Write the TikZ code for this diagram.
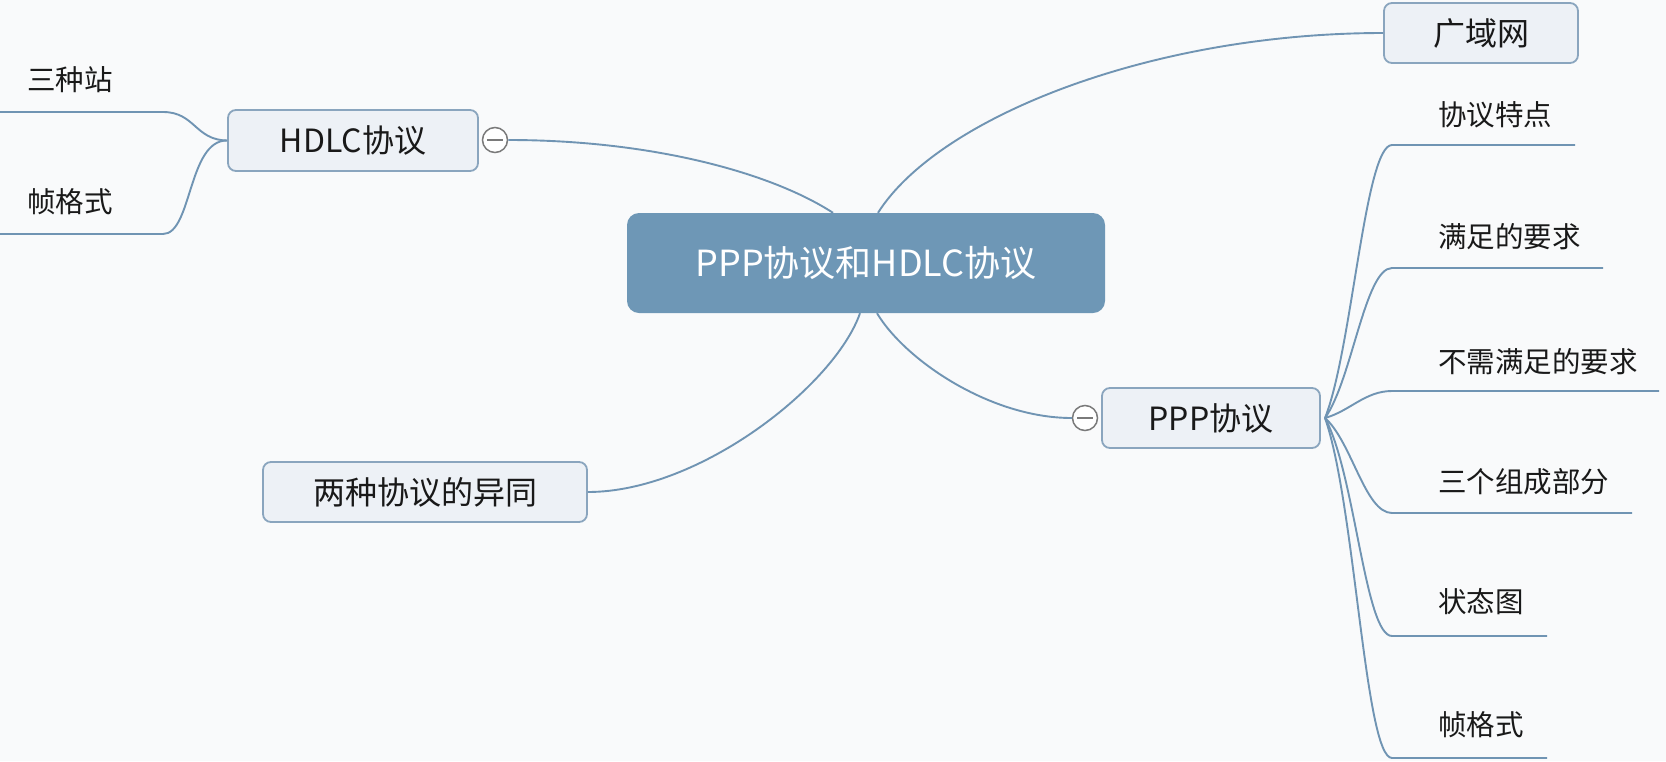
\documentclass[tikz,border=0pt]{standalone}
\usepackage{fontspec}
\setmainfont{Noto Sans CJK SC}
\definecolor{bgc}{HTML}{F9FAFB}
\definecolor{boxfill}{HTML}{EDF1F6}
\definecolor{boxline}{HTML}{8AA5BE}
\definecolor{mainfill}{HTML}{6E97B6}
\definecolor{linkc}{HTML}{7094B3}
\definecolor{knob}{HTML}{7A7A7A}
\begin{document}
\begin{tikzpicture}[x=1pt,y=-1pt,
  topic/.style={draw=boxline, line width=1.8pt, fill=boxfill, rounded corners=8pt,
    inner sep=0pt, font=\fontsize{32}{38}\selectfont, text=black!90},
  central/.style={fill=mainfill, rounded corners=12pt, inner sep=0pt,
    minimum width=478pt, minimum height=100pt, text=white, font=\fontsize{36}{42}\selectfont},
  leaf/.style={anchor=west, inner sep=0pt, font=\fontsize{28.5}{34}\selectfont, text=black!90},
  link/.style={draw=linkc, line width=1.9pt},
  knobc/.style={circle, draw=knob, line width=1.5pt, fill=white, minimum size=25pt, inner sep=0pt,
    path picture={\draw[knob, line width=1.6pt] ([xshift=-8pt]path picture bounding box.center) -- ([xshift=8pt]path picture bounding box.center);}}
]
\useasboundingbox[fill=bgc] (0,0) rectangle (1666,761);

% main topics
\node[central] (center) at (866,263) {PPP协议和HDLC协议};
\node[topic, minimum width=250pt, minimum height=61pt] (hdlc) at (353,140.5) {HDLC协议};
\node[topic, minimum width=218pt, minimum height=60pt] (ppp) at (1211,418) {PPP协议};
\node[topic, minimum width=194pt, minimum height=60pt] (wan) at (1481,33) {广域网};
\node[topic, minimum width=324pt, minimum height=60pt] (diff) at (425,492) {两种协议的异同};

% collapse knobs
\node[knobc] (hk) at (495,140) {};
\node[knobc] (pk) at (1085,418) {};

% links from the central topic
\draw[link] ([xshift=12pt]center.north) .. controls (938,118) and (1150,33) .. (wan.west);
\draw[link] ([xshift=-33pt]center.north) .. controls (770,172) and (650,140) .. (hk.east);
\draw[link] ([xshift=-6pt]center.south) .. controls (835,385) and (700,492) .. (diff.east);
\draw[link] ([xshift=11pt]center.south) .. controls (905,360) and (990,418) .. (pk.west);

% HDLC leaves
\node[leaf] (l1) at (27,80) {三种站};
\node[leaf] (l2) at (27,202) {帧格式};
\coordinate (l1c) at (163,112);
\coordinate (l1e) at (0,112);
\coordinate (l2c) at (163,234);
\coordinate (l2e) at (0,234);
\draw[link] (hdlc.west) .. controls (195,140) and (195,112) .. (l1c) -- (l1e);
\draw[link] (hdlc.west) .. controls (188,140) and (192,234) .. (l2c) -- (l2e);

% PPP leaves
\coordinate (po) at (1325,418);
\node[leaf] (r1) at (1438,115) {协议特点};
\node[leaf] (r2) at (1438,237) {满足的要求};
\node[leaf] (r3) at (1438,362) {不需满足的要求};
\node[leaf] (r4) at (1438,482) {三个组成部分};
\node[leaf] (r5) at (1438,602) {状态图};
\node[leaf] (r6) at (1438,725) {帧格式};

\coordinate (r1c) at (1392,145); \coordinate (r1e) at (1575,145);
\coordinate (r2c) at (1392,268); \coordinate (r2e) at (1603,268);
\coordinate (r3c) at (1392,391); \coordinate (r3e) at (1659,391);
\coordinate (r4c) at (1392,513); \coordinate (r4e) at (1632,513);
\coordinate (r5c) at (1392,636); \coordinate (r5e) at (1547,636);
\coordinate (r6c) at (1392,758); \coordinate (r6e) at (1547,758);

\draw[link] (po) .. controls (1352,350) and (1365,145) .. (r1c) -- (r1e);
\draw[link] (po) .. controls (1352,380) and (1365,268) .. (r2c) -- (r2e);
\draw[link] (po) .. controls (1350,411) and (1365,391) .. (r3c) -- (r3e);
\draw[link] (po) .. controls (1352,442) and (1365,513) .. (r4c) -- (r4e);
\draw[link] (po) .. controls (1355,473) and (1365,636) .. (r5c) -- (r5e);
\draw[link] (po) .. controls (1355,503) and (1365,758) .. (r6c) -- (r6e);
\end{tikzpicture}
\end{document}
